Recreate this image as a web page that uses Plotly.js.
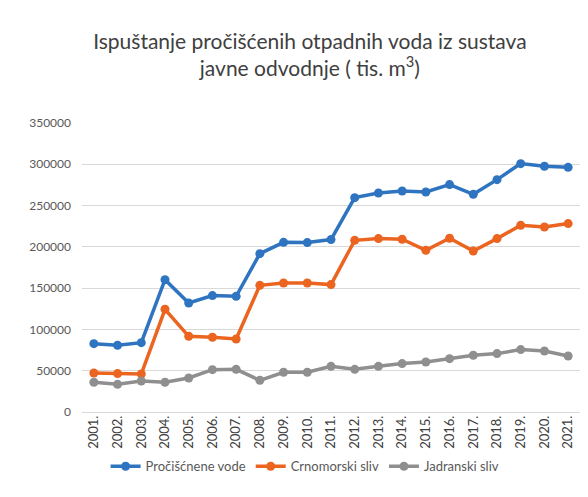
<!DOCTYPE html>
<html>
<head>
<meta charset="utf-8">
<script src="https://cdn.plot.ly/plotly-3.0.1.min.js"></script>
<style>html,body{margin:0;padding:0;background:#fff;}#chart{width:588px;height:497px;}</style>
</head>
<body>
<div id="chart"></div>
<script>
const years = ["2001.","2002.","2003.","2004.","2005.","2006.","2007.","2008.","2009.","2010.","2011.","2012.","2013.","2014.","2015.","2016.","2017.","2018.","2019.","2020.","2021."];
const procisceneVode = [82800,80800,84000,160300,132000,141000,140100,191800,205500,205200,208800,259600,265200,267600,266400,275400,263600,281400,300800,297600,296300];
const crnomorskiSliv = [47200,46500,46000,124400,91700,90500,88400,153400,156200,156200,154300,207900,210000,209200,195800,210400,195000,210000,226100,224000,228200];
const jadranskiSliv = [36000,33500,37500,36000,41200,51300,51700,38400,48100,48100,55300,51700,55300,58600,60600,64600,68700,70700,75600,73900,67800];
const seriesNames = ["Pročišćnene vode","Crnomorski sliv","Jadranski sliv"];
const seriesColors = ["#2e74c0","#eb6420","#8f8f8f"];
const yTicks = [0,50000,100000,150000,200000,250000,300000,350000];

const values = [procisceneVode, crnomorskiSliv, jadranskiSliv];
const traces = values.map((v,i)=>({
  x: years, y: v, type:'scatter', mode:'lines+markers', name: seriesNames[i],
  line:{color:seriesColors[i], width:3.5},
  marker:{color:seriesColors[i], size:9}
}));

const layout = {
  width:588, height:497,
  margin:{l:82, r:8, t:123, b:85},
  paper_bgcolor:'#fff', plot_bgcolor:'#fff',
  font:{family:'Lato, "Open Sans", sans-serif', color:'#595959', size:12},
  title:{text:'Ispuštanje pročišćenih otpadnih voda iz sustava<br>javne odvodnje ( tis. m<sup>3</sup>)',
    font:{size:21, color:'#404040', family:'Lato, "Open Sans", sans-serif'},
    x:0.527, xref:'container', xanchor:'center', y:0.902, yref:'container', yanchor:'top'},
  xaxis:{type:'category', tickangle:-90, showgrid:false, zeroline:false, showline:false,
    ticks:'', range:[-0.5,20.5], tickfont:{size:13, color:'#404040'}},
  yaxis:{range:[0,350000], tickvals:yTicks, ticktext:yTicks.map(String), showgrid:true,
    gridcolor:'#d9d9d9', gridwidth:1, zeroline:true, zerolinecolor:'#d9d9d9', showline:false,
    ticks:'', ticklabelstandoff:10, tickfont:{size:12, color:'#595959'}},
  showlegend:true,
  legend:{orientation:'h', x:0.448, xanchor:'center', y:-0.188, yanchor:'middle',
    font:{size:13, color:'#595959'}, itemwidth:30, tracegroupgap:0}
};
Plotly.newPlot('chart', traces, layout, {displayModeBar:false, staticPlot:true});
</script>
</body>
</html>
